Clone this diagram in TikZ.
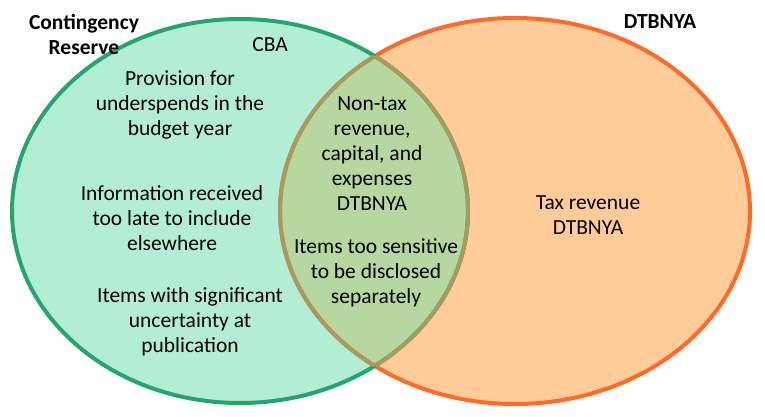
\documentclass[tikz,border=0pt]{standalone}
\usepackage{fontspec}
\setmainfont{Carlito}
\definecolor{lfill}{HTML}{B3EDD3}
\definecolor{lline}{HTML}{22A56E}
\definecolor{rfill}{HTML}{FFCC99}
\definecolor{rline}{HTML}{FF6A2A}
\definecolor{ofill}{HTML}{B6D79F}
\definecolor{oline}{HTML}{A89A5C}
\begin{document}
\begin{tikzpicture}[x=1pt,y=-1pt,
  txt/.style={align=center,font=\fontsize{21.5}{25}\selectfont},
  btxt/.style={align=center,font=\fontsize{21.5}{25}\selectfont\bfseries}]
\useasboundingbox (0,0) rectangle (765,416);
\def\L{(240,211) ellipse [x radius=228,y radius=192]}
\def\R{(515,211) ellipse [x radius=235,y radius=193]}
\fill[rfill] \R;
\fill[lfill] \L;
\begin{scope}\clip \L; \fill[ofill] \R; \end{scope}
\draw[rline,line width=4pt] \R;
\draw[lline,line width=4pt] \L;
\begin{scope}\clip \L; \draw[oline,line width=4pt] \R; \end{scope}
\begin{scope}\clip \R; \draw[oline,line width=4pt] \L; \end{scope}
\node[btxt] (cr) at (84,35) {Contingency\\Reserve};
\node[btxt] (dt) at (660,22) {DTBNYA};
\node[txt] (cba) at (270,45) {CBA};
\node[txt] (p) at (180,105) {Provision for\\underspends in the\\budget year};
\node[txt] (i) at (172,218) {Information received\\too late to include\\elsewhere};
\node[txt] (u) at (190,322) {Items with significant\\uncertainty at\\publication};
\node[txt] (n) at (372,154) {Non-tax\\revenue,\\capital, and\\expenses\\DTBNYA};
\node[txt] (s) at (376,273) {Items too sensitive\\to be disclosed\\separately};
\node[txt] (t) at (588,215) {Tax revenue\\DTBNYA};
\end{tikzpicture}
\end{document}
